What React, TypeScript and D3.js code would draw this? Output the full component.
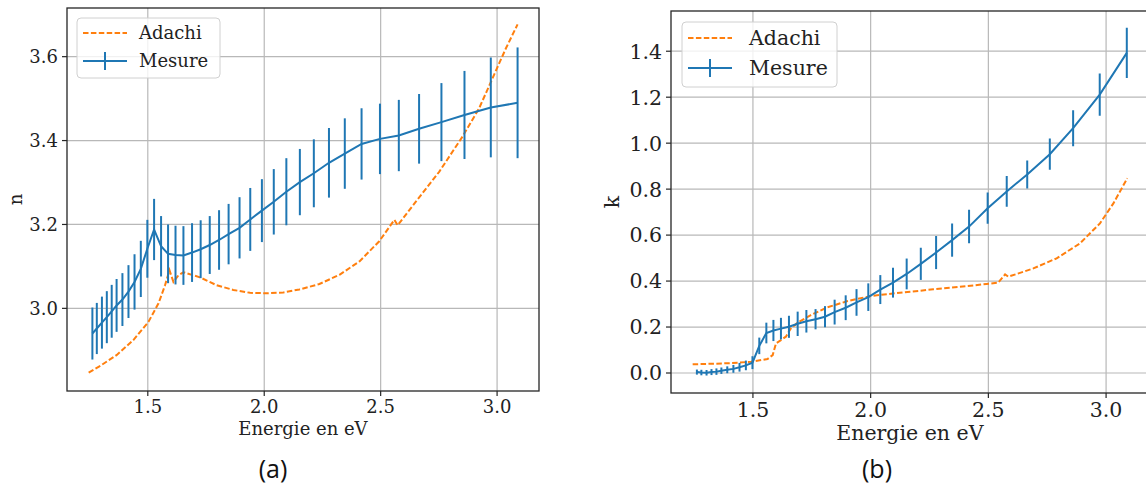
import React from "react";
import * as d3 from "d3";

// ---- data ----
const energies = [
  1.262, 1.281, 1.303, 1.324, 1.345, 1.366, 1.391, 1.417, 1.443, 1.47, 1.498, 1.527, 1.557,
  1.587, 1.619, 1.653, 1.69, 1.727, 1.766, 1.806, 1.847, 1.894, 1.94, 1.99, 2.041, 2.095,
  2.153, 2.213, 2.278, 2.346, 2.418, 2.497, 2.578, 2.665, 2.761, 2.86, 2.973, 3.088,
];
const nMesure = [
  2.94, 2.952, 2.966, 2.979, 2.993, 3.007, 3.021, 3.04, 3.063, 3.094, 3.142, 3.188, 3.148,
  3.13, 3.127, 3.126, 3.133, 3.141, 3.151, 3.163, 3.177, 3.192, 3.212, 3.233, 3.254, 3.278,
  3.301, 3.322, 3.347, 3.369, 3.392, 3.404, 3.412, 3.428, 3.444, 3.461, 3.479, 3.49,
];
const nErr = [
  0.062, 0.061, 0.062, 0.062, 0.063, 0.063, 0.063, 0.063, 0.066, 0.067, 0.069, 0.073, 0.072,
  0.07, 0.07, 0.07, 0.07, 0.069, 0.069, 0.071, 0.072, 0.073, 0.075, 0.075, 0.078, 0.08, 0.079,
  0.081, 0.083, 0.084, 0.085, 0.084, 0.085, 0.083, 0.093, 0.105, 0.119, 0.132,
];
const kMesure = [
  0.004, 0.002, 0.001, 0.004, 0.006, 0.01, 0.014, 0.018, 0.025, 0.033, 0.045, 0.118, 0.174,
  0.185, 0.193, 0.201, 0.214, 0.225, 0.234, 0.245, 0.265, 0.284, 0.307, 0.33, 0.363, 0.393,
  0.431, 0.475, 0.524, 0.578, 0.637, 0.717, 0.79, 0.864, 0.952, 1.065, 1.211, 1.393,
];
const kErr = [
  0.011, 0.012, 0.012, 0.013, 0.014, 0.014, 0.015, 0.017, 0.019, 0.021, 0.028, 0.036, 0.045,
  0.046, 0.047, 0.048, 0.053, 0.049, 0.044, 0.046, 0.054, 0.054, 0.058, 0.06, 0.063, 0.065,
  0.067, 0.07, 0.072, 0.072, 0.073, 0.068, 0.067, 0.061, 0.068, 0.078, 0.092, 0.109,
];
const adachiNEnergy = [
  1.246, 1.296, 1.367, 1.439, 1.503, 1.546, 1.574, 1.593, 1.61, 1.632, 1.653, 1.724, 1.796,
  1.867, 1.939, 2.01, 2.082, 2.151, 2.237, 2.323, 2.409, 2.494, 2.559, 2.573, 2.652, 2.752,
  2.852, 2.923, 2.98, 3.038, 3.088,
];
const adachiN = [
  2.847, 2.863, 2.889, 2.925, 2.968, 3.012, 3.055, 3.091, 3.063, 3.079, 3.086, 3.074, 3.055,
  3.044, 3.037, 3.036, 3.038, 3.045, 3.058, 3.08, 3.112, 3.16, 3.211, 3.198, 3.255, 3.326,
  3.41, 3.477, 3.548, 3.62, 3.677,
];
const adachiKEnergy = [
  1.244, 1.322, 1.407, 1.492, 1.562, 1.584, 1.598, 1.619, 1.64, 1.661, 1.69, 1.746, 1.817,
  1.902, 2.001, 2.124, 2.266, 2.408, 2.542, 2.571, 2.585, 2.691, 2.79, 2.889, 2.974, 3.031, 3.09,
];
const adachiK = [
  0.038, 0.04, 0.043, 0.049, 0.061, 0.078, 0.129, 0.143, 0.158, 0.194, 0.219, 0.252, 0.286,
  0.313, 0.335, 0.349, 0.364, 0.378, 0.393, 0.429, 0.419, 0.455, 0.499, 0.564, 0.651, 0.738,
  0.847,
];
const xTicks = [1.5, 2.0, 2.5, 3.0];
const nTicks = [3.0, 3.2, 3.4, 3.6];
const kTicks = [0.0, 0.2, 0.4, 0.6, 0.8, 1.0, 1.2, 1.4];
const xLabel = "Energie en eV";
const legendLabels = ["Adachi", "Mesure"];

const BLUE = "#1f77b4";
const ORANGE = "#ff7f0e";
const SERIF = "'DejaVu Serif', serif";

type PanelProps = {
  left: number; right: number; top: number; bottom: number;
  xDomain: [number, number]; yDomain: [number, number];
  yTicks: number[]; yLabel: string;
  meas: number[]; err: number[];
  adE: number[]; adV: number[];
  fs: number; caption: string; captionX: number;
  xLabelY: number; yLabelX: number; tickLabelDy: number;
  legend: { x: number; y: number; w: number; h: number; row1: number; row2: number; textX: number };
};

function Panel(p: PanelProps) {
  const x = d3.scaleLinear().domain(p.xDomain).range([p.left, p.right]);
  const y = d3.scaleLinear().domain(p.yDomain).range([p.bottom, p.top]);
  const line = d3.line<[number, number]>().x((d) => x(d[0])).y((d) => y(d[1]));
  const measPts: [number, number][] = energies.map((e, i) => [e, p.meas[i]]);
  const adPts: [number, number][] = p.adE.map((e, i) => [e, p.adV[i]]);
  const clipId = "clip-" + p.caption.replace(/[()]/g, "");
  const L = p.legend;
  const sx0 = L.x + 6, sx1 = L.x + 50;
  const lw = 2;
  return (
    <g>
      <defs>
        <clipPath id={clipId}>
          <rect x={p.left} y={p.top} width={p.right - p.left} height={p.bottom - p.top} />
        </clipPath>
      </defs>
      {xTicks.map((t) => (
        <line key={"gx" + t} x1={x(t)} x2={x(t)} y1={p.top} y2={p.bottom} stroke="#b8b8b8" strokeWidth={1.2} />
      ))}
      {p.yTicks.map((t) => (
        <line key={"gy" + t} x1={p.left} x2={p.right} y1={y(t)} y2={y(t)} stroke="#b8b8b8" strokeWidth={1.2} />
      ))}
      <g clipPath={`url(#${clipId})`}>
        <path d={line(adPts) || ""} fill="none" stroke={ORANGE} strokeWidth={lw} strokeDasharray="5.5,2.4" />
        <path d={line(measPts) || ""} fill="none" stroke={BLUE} strokeWidth={lw} />
        {energies.map((e, i) => (
          <line key={"eb" + i} x1={x(e)} x2={x(e)} y1={y(p.meas[i] - p.err[i])} y2={y(p.meas[i] + p.err[i])}
            stroke={BLUE} strokeWidth={lw} />
        ))}
      </g>
      <rect x={p.left} y={p.top} width={p.right - p.left} height={p.bottom - p.top} fill="none" stroke="#262626" strokeWidth={1.3} />
      {xTicks.map((t) => (
        <g key={"xt" + t}>
          <line x1={x(t)} x2={x(t)} y1={p.bottom} y2={p.bottom + 5} stroke="#262626" strokeWidth={1.2} />
          <text x={x(t)} y={p.bottom + p.tickLabelDy} textAnchor="middle" fontFamily={SERIF} fontSize={p.fs} fill="#222">
            {t.toFixed(1)}
          </text>
        </g>
      ))}
      {p.yTicks.map((t) => (
        <g key={"yt" + t}>
          <line x1={p.left - 5} x2={p.left} y1={y(t)} y2={y(t)} stroke="#262626" strokeWidth={1.2} />
          <text x={p.left - 9} y={y(t)} dy="0.36em" textAnchor="end" fontFamily={SERIF} fontSize={p.fs} fill="#222">
            {t.toFixed(1)}
          </text>
        </g>
      ))}
      <text x={x((p.xDomain[0] + p.xDomain[1]) / 2)} y={p.xLabelY}
        textAnchor="middle" fontFamily={SERIF} fontSize={p.fs} fill="#222">{xLabel}</text>
      <text transform={`translate(${p.yLabelX},${(p.top + p.bottom) / 2}) rotate(-90)`} textAnchor="middle"
        fontFamily={SERIF} fontSize={p.fs} fill="#222">{p.yLabel}</text>
      <rect x={L.x} y={L.y} width={L.w} height={L.h} rx={4} fill="white" fillOpacity={0.8} stroke="#d0d0d0" strokeWidth={1} />
      <line x1={sx0} x2={sx1} y1={L.row1} y2={L.row1} stroke={ORANGE} strokeWidth={lw} strokeDasharray="5.5,2.4" />
      <line x1={sx0} x2={sx1} y1={L.row2} y2={L.row2} stroke={BLUE} strokeWidth={lw} />
      <line x1={(sx0 + sx1) / 2} x2={(sx0 + sx1) / 2} y1={L.row2 - 9} y2={L.row2 + 9} stroke={BLUE} strokeWidth={lw} />
      <text x={L.textX} y={L.row1} dy="0.36em" fontFamily={SERIF} fontSize={p.fs} fill="#222">{legendLabels[0]}</text>
      <text x={L.textX} y={L.row2} dy="0.36em" fontFamily={SERIF} fontSize={p.fs} fill="#222">{legendLabels[1]}</text>
      <text x={p.captionX} y={478} textAnchor="middle" fontFamily="'Open Sans', 'Noto Sans', sans-serif" fontSize={25} fill="#111">
        {p.caption}
      </text>
    </g>
  );
}

export default function App() {
  return (
    <svg width={1146} height={488} style={{ position: "absolute", left: 0, top: 0, background: "white" }}>
      <rect x={0} y={0} width={1146} height={488} fill="white" />
      <Panel
        left={67} right={539} top={8} bottom={391}
        xDomain={[1.153, 3.18]} yDomain={[2.803, 3.716]}
        yTicks={nTicks} yLabel="n" meas={nMesure} err={nErr}
        adE={adachiNEnergy} adV={adachiN}
        fs={18} caption="(a)" captionX={273}
        xLabelY={435} yLabelX={22} tickLabelDy={22}
        legend={{ x: 77, y: 18, w: 143, h: 60, row1: 33, row2: 61, textX: 139 }}
      />
      <Panel
        left={671} right={1148.7} top={11} bottom={393}
        xDomain={[1.152, 3.181]} yDomain={[-0.087, 1.575]}
        yTicks={kTicks} yLabel="k" meas={kMesure} err={kErr}
        adE={adachiKEnergy} adV={adachiK}
        fs={20.5} caption="(b)" captionX={877}
        xLabelY={440} yLabelX={619} tickLabelDy={24}
        legend={{ x: 682, y: 22, w: 155, h: 65, row1: 38, row2: 68, textX: 749 }}
      />
    </svg>
  );
}
